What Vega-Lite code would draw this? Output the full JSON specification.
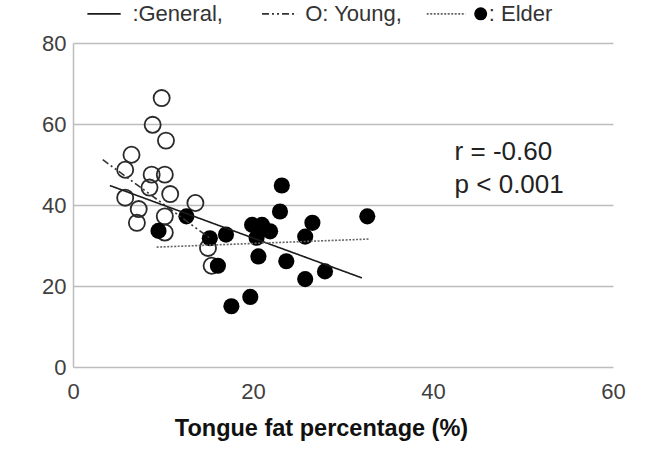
{
  "$schema": "https://vega.github.io/schema/vega-lite/v6.json",
  "width": 540,
  "height": 324,
  "autosize": {"type": "none"},
  "padding": {"left": 73, "top": 43, "right": 43, "bottom": 84},
  "background": "white",
  "config": {
    "view": {"stroke": null},
    "font": "Liberation Sans",
    "text": {"font": "Liberation Sans"}
  },
  "data": {"values": [{"note": "annotation"}]},
  "datasets": {
    "points": [
      {"group": "Young", "fat": 9.85, "value": 66.4},
      {"group": "Young", "fat": 8.85, "value": 59.8},
      {"group": "Young", "fat": 10.33, "value": 55.9},
      {"group": "Young", "fat": 6.5, "value": 52.4},
      {"group": "Young", "fat": 5.8, "value": 48.7},
      {"group": "Young", "fat": 8.74, "value": 47.5},
      {"group": "Young", "fat": 10.2, "value": 47.5},
      {"group": "Young", "fat": 8.5, "value": 44.3},
      {"group": "Young", "fat": 10.8, "value": 42.7},
      {"group": "Young", "fat": 5.8, "value": 41.8},
      {"group": "Young", "fat": 7.3, "value": 39.0},
      {"group": "Young", "fat": 7.1, "value": 35.6},
      {"group": "Young", "fat": 10.2, "value": 37.2},
      {"group": "Young", "fat": 13.6, "value": 40.5},
      {"group": "Young", "fat": 10.2, "value": 33.2},
      {"group": "Young", "fat": 15.0, "value": 29.4},
      {"group": "Young", "fat": 15.4, "value": 25.0},
      {"group": "Elder", "fat": 9.5, "value": 33.6},
      {"group": "Elder", "fat": 12.6, "value": 37.2},
      {"group": "Elder", "fat": 15.2, "value": 31.8},
      {"group": "Elder", "fat": 17.0, "value": 32.7},
      {"group": "Elder", "fat": 16.1, "value": 25.0},
      {"group": "Elder", "fat": 17.6, "value": 15.0},
      {"group": "Elder", "fat": 19.7, "value": 17.3},
      {"group": "Elder", "fat": 23.2, "value": 44.8},
      {"group": "Elder", "fat": 23.0, "value": 38.4},
      {"group": "Elder", "fat": 19.9, "value": 35.1},
      {"group": "Elder", "fat": 21.0, "value": 35.1},
      {"group": "Elder", "fat": 21.9, "value": 33.5},
      {"group": "Elder", "fat": 20.4, "value": 31.9},
      {"group": "Elder", "fat": 20.6, "value": 27.3},
      {"group": "Elder", "fat": 23.7, "value": 26.1},
      {"group": "Elder", "fat": 25.8, "value": 21.7},
      {"group": "Elder", "fat": 28.0, "value": 23.6},
      {"group": "Elder", "fat": 26.6, "value": 35.6},
      {"group": "Elder", "fat": 25.8, "value": 32.2},
      {"group": "Elder", "fat": 32.7, "value": 37.2}
    ],
    "fits": [
      {"line": "General", "fat": 4.1, "value": 44.8},
      {"line": "General", "fat": 32.1, "value": 22.0},
      {"line": "Young", "fat": 3.3, "value": 51.2},
      {"line": "Young", "fat": 15.4, "value": 31.5},
      {"line": "Elder", "fat": 9.3, "value": 29.6},
      {"line": "Elder", "fat": 33.0, "value": 31.6}
    ]
  },
  "layer": [
    {
      "data": {"name": "points"},
      "transform": [{"filter": "datum.group === 'Young'"}],
      "mark": {"type": "point", "shape": "circle", "filled": false, "stroke": "#2a2a2a", "strokeWidth": 1.8, "size": 260, "opacity": 1},
      "encoding": {
        "x": {
          "field": "fat", "type": "quantitative",
          "scale": {"domain": [0, 60], "nice": false, "zero": true},
          "axis": {
            "values": [0, 20, 40, 60], "grid": false, "domain": false, "ticks": false,
            "labelFlush": false,
            "labelFontSize": 22, "labelColor": "#404040", "labelPadding": 14, "labelFont": "Liberation Sans",
            "title": "Tongue fat percentage (%)", "titleFontSize": 23.5, "titleFontWeight": "bold",
            "titleColor": "#111111", "titlePadding": 14, "titleFont": "Liberation Sans", "titleX": 248
          }
        },
        "y": {
          "field": "value", "type": "quantitative",
          "scale": {"domain": [0, 80], "nice": false},
          "axis": {
            "values": [0, 20, 40, 60, 80], "grid": true, "gridColor": "#bdbdbd", "gridWidth": 1.5,
            "domain": true, "domainColor": "#bdbdbd", "domainWidth": 1.5, "ticks": false,
            "labelFlush": false,
            "labelFontSize": 22, "labelColor": "#404040", "labelPadding": 7, "labelFont": "Liberation Sans",
            "title": null
          }
        }
      }
    },
    {
      "data": {"name": "points"},
      "transform": [{"filter": "datum.group === 'Elder'"}],
      "mark": {"type": "circle", "color": "#000000", "size": 260, "opacity": 1},
      "encoding": {
        "x": {"field": "fat", "type": "quantitative"},
        "y": {"field": "value", "type": "quantitative"}
      }
    },
    {
      "data": {"name": "fits"},
      "mark": {"type": "line", "strokeWidth": 1.6},
      "encoding": {
        "x": {"field": "fat", "type": "quantitative"},
        "y": {"field": "value", "type": "quantitative"},
        "detail": {"field": "line"},
        "strokeDash": {
          "field": "line", "type": "nominal",
          "scale": {"domain": ["General", "Young", "Elder"], "range": [[1, 0], [7, 3, 2, 3, 2, 3], [2, 1.5]]},
          "legend": null
        },
        "color": {
          "field": "line", "type": "nominal",
          "scale": {"domain": ["General", "Young", "Elder"], "range": ["#1a1a1a", "#333333", "#666666"]},
          "legend": null
        }
      }
    },
    {
      "mark": {"type": "rule", "strokeWidth": 1.6},
      "encoding": {
        "x": {"datum": 1.6, "type": "quantitative"},
        "x2": {"datum": 5.3},
        "y": {"datum": 87.2, "type": "quantitative"},
        "strokeDash": {"datum": "General", "type": "nominal"},
        "color": {"datum": "General", "type": "nominal"}
      }
    },
    {
      "mark": {"type": "rule", "strokeWidth": 1.6},
      "encoding": {
        "x": {"datum": 21.0, "type": "quantitative"},
        "x2": {"datum": 24.9},
        "y": {"datum": 87.2, "type": "quantitative"},
        "strokeDash": {"datum": "Young", "type": "nominal"},
        "color": {"datum": "Young", "type": "nominal"}
      }
    },
    {
      "mark": {"type": "rule", "strokeWidth": 1.6},
      "encoding": {
        "x": {"datum": 39.3, "type": "quantitative"},
        "x2": {"datum": 43.6},
        "y": {"datum": 87.2, "type": "quantitative"},
        "strokeDash": {"datum": "Elder", "type": "nominal"},
        "color": {"datum": "Elder", "type": "nominal"}
      }
    },
    {
      "mark": {"type": "text", "align": "left", "baseline": "middle", "fontSize": 22, "color": "#333333"},
      "encoding": {
        "x": {"datum": 6.6, "type": "quantitative"},
        "y": {"datum": 87.2, "type": "quantitative"},
        "text": {"value": ":General,"}
      }
    },
    {
      "mark": {"type": "text", "align": "left", "baseline": "middle", "fontSize": 22, "color": "#333333"},
      "encoding": {
        "x": {"datum": 25.8, "type": "quantitative"},
        "y": {"datum": 87.2, "type": "quantitative"},
        "text": {"value": "O: Young,"}
      }
    },
    {
      "mark": {"type": "circle", "color": "#000000", "size": 170, "opacity": 1},
      "encoding": {
        "x": {"datum": 45.3, "type": "quantitative"},
        "y": {"datum": 87.2, "type": "quantitative"}
      }
    },
    {
      "mark": {"type": "text", "align": "left", "baseline": "middle", "fontSize": 22, "color": "#333333"},
      "encoding": {
        "x": {"datum": 46.2, "type": "quantitative"},
        "y": {"datum": 87.2, "type": "quantitative"},
        "text": {"value": ": Elder"}
      }
    },
    {
      "mark": {"type": "text", "align": "left", "baseline": "middle", "fontSize": 26, "color": "#222222"},
      "encoding": {
        "x": {"datum": 42.4, "type": "quantitative"},
        "y": {"datum": 53.2, "type": "quantitative"},
        "text": {"value": "r = -0.60"}
      }
    },
    {
      "mark": {"type": "text", "align": "left", "baseline": "middle", "fontSize": 26, "color": "#222222"},
      "encoding": {
        "x": {"datum": 42.4, "type": "quantitative"},
        "y": {"datum": 45.0, "type": "quantitative"},
        "text": {"value": "p < 0.001"}
      }
    }
  ]
}
